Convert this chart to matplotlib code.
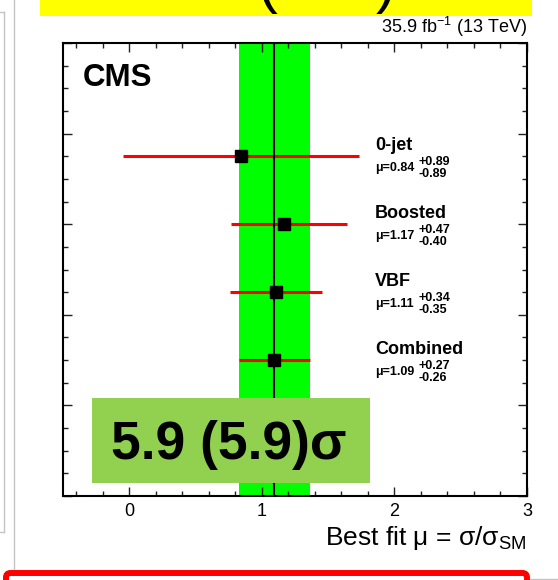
import matplotlib
matplotlib.use("Agg")
import matplotlib.pyplot as plt
from matplotlib.patches import Rectangle, FancyBboxPatch
from matplotlib.lines import Line2D
from matplotlib.ticker import MultipleLocator, FixedLocator

plt.rcParams['font.family'] = ['Liberation Sans', 'DejaVu Sans']
plt.rcParams['mathtext.fontset'] = 'custom'
plt.rcParams['mathtext.rm'] = 'Liberation Sans'
plt.rcParams['mathtext.it'] = 'Liberation Sans:italic'
plt.rcParams['mathtext.bf'] = 'Liberation Sans:bold'

# данные: best fit mu по категориям
categories = ['0-jet', 'Boosted', 'VBF', 'Combined']
mu = [0.84, 1.17, 1.11, 1.09]
err_up = [0.89, 0.47, 0.34, 0.27]
err_dn = [0.89, 0.40, 0.35, 0.26]
y_pos = [3.75, 3.0, 2.25, 1.5]
x_ticks = [0, 1, 2, 3]
significance = '5.9 (5.9)σ'
lumi_label = r'35.9 fb$^{\mathrm{-1}}$ (13 TeV)'
x_label = r'Best fit μ = σ/σ$_{\mathrm{SM}}$'

W, H = 558, 580


def fx(x):
    return x / W


def fy(y):
    return 1 - y / H


fig = plt.figure(figsize=(W / 100, H / 100), dpi=100)

# элементы слайда вокруг графика
fig.add_artist(Rectangle((fx(40), fy(16)), (532 - 40) / W, 30 / H,
                         transform=fig.transFigure, facecolor='#ffff00', lw=0, zorder=1))
fig.text(fx(267), fy(2), '(', fontsize=43, ha='center', va='baseline', zorder=2)
fig.text(fx(386), fy(2), ')', fontsize=43, ha='center', va='baseline', zorder=2)

gray = '#c4c4c4'
for xs, ys in [([4, 4], [12, 532]), ([0, 4], [12, 12]), ([0, 4], [532, 532]),
               ([14, 14], [0, 575]), ([530, 558], [579, 579])]:
    fig.add_artist(Line2D([fx(v) for v in xs], [fy(v) for v in ys],
                          transform=fig.transFigure, color=gray, lw=1))

fig.add_artist(FancyBboxPatch((fx(6), fy(640)), (527 - 6) / W, (640 - 573) / H,
                              boxstyle='round,pad=0,rounding_size=0.008',
                              transform=fig.transFigure, facecolor='white',
                              edgecolor='#ff0000', lw=4.3, zorder=2))

# сам график
ax = fig.add_axes([fx(63), fy(496), (527 - 63) / W, (496 - 43) / H])

lo = [m - d for m, d in zip(mu, err_dn)]
hi = [m + u for m, u in zip(mu, err_up)]
ax.axvspan(lo[-1], hi[-1], color='#00ff00', lw=0, zorder=1)
ax.hlines(y_pos, lo, hi, color='#ff0000', lw=2.2, zorder=2)
ax.axvline(mu[-1], color='black', lw=1.5, zorder=3)
ax.plot(mu, y_pos, 's', color='black', ms=8.5, zorder=4)

for name, m, u, d, y in zip(categories, mu, err_up, err_dn, y_pos):
    ax.annotate(name, (1.855, y), xytext=(0, 7.9), textcoords='offset points',
                fontsize=13, fontweight='bold', ha='left', va='center')
    ax.annotate(f'μ={m:.2f}', (1.855, y), xytext=(0, -8.6), textcoords='offset points',
                fontsize=9, fontweight='bold', ha='left', va='center')
    ax.annotate(f'+{u:.2f}', (2.185, y), xytext=(0, -4), textcoords='offset points',
                fontsize=9, fontweight='bold', ha='left', va='center')
    ax.annotate(f'-{d:.2f}', (2.185, y), xytext=(0, -13), textcoords='offset points',
                fontsize=9, fontweight='bold', ha='left', va='center')

ax.text(0.043, 0.956, 'CMS', transform=ax.transAxes, fontsize=22.5,
        fontweight='bold', ha='left', va='top')
ax.text(1.0, 1 + 10 / 453, lumi_label, transform=ax.transAxes,
        fontsize=13, ha='right', va='baseline')
ax.text(1.0, -(545 - 496) / 453, x_label, transform=ax.transAxes,
        fontsize=19, ha='right', va='baseline')

ax.set_xlim(-0.5, 3)
ax.set_ylim(0, 5)
ax.xaxis.set_major_locator(FixedLocator(x_ticks))
ax.xaxis.set_minor_locator(MultipleLocator(0.2))
ax.yaxis.set_major_locator(MultipleLocator(1))
ax.yaxis.set_minor_locator(MultipleLocator(0.25))
ax.tick_params(which='both', direction='in', top=True, right=True, width=1, color='#222222')
ax.tick_params(which='major', length=6.8)
ax.tick_params(which='minor', length=3.6)
ax.tick_params(axis='x', labelsize=13, pad=5)
ax.tick_params(axis='y', labelleft=False)
for s in ax.spines.values():
    s.set_linewidth(1.5)

# плашка со значимостью поверх графика
fig.add_artist(Rectangle((fx(92), fy(483)), (370 - 92) / W, (483 - 398) / H,
                         transform=fig.transFigure, facecolor='#92d050', lw=0, zorder=5))
fig.text(fx(229), fy(459), significance, fontsize=38.5, fontweight='bold',
         ha='center', va='baseline', zorder=6)

fig.savefig('out.png', dpi=100)
